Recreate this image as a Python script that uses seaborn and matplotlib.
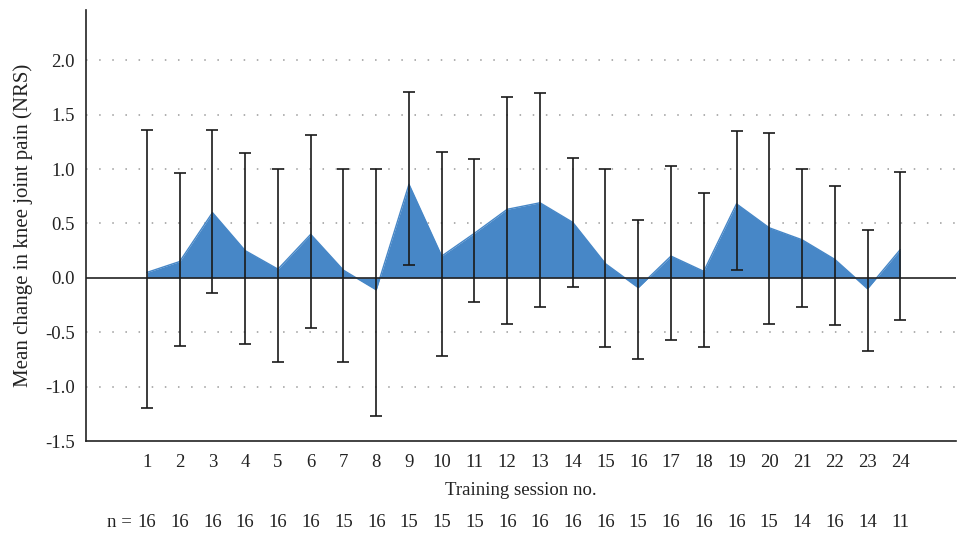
import numpy as np
import pandas as pd
import matplotlib
matplotlib.use("Agg")
import matplotlib.pyplot as plt
import seaborn as sns

sessions = list(range(1, 25))
mean_change = [0.05, 0.15, 0.60, 0.25, 0.08, 0.40, 0.07, -0.11, 0.86, 0.20,
               0.41, 0.63, 0.69, 0.51, 0.13, -0.09, 0.20, 0.06, 0.68, 0.46,
               0.35, 0.17, -0.10, 0.26]
err_upper = [1.36, 0.96, 1.36, 1.15, 1.00, 1.31, 1.00, 1.00, 1.71, 1.16,
             1.09, 1.66, 1.70, 1.10, 1.00, 0.53, 1.03, 0.78, 1.35, 1.33,
             1.00, 0.84, 0.44, 0.97]
err_lower = [-1.20, -0.63, -0.14, -0.61, -0.77, -0.46, -0.77, -1.27, 0.12, -0.72,
             -0.22, -0.42, -0.27, -0.08, -0.64, -0.75, -0.57, -0.64, 0.07, -0.42,
             -0.27, -0.43, -0.67, -0.39]
n_values = [16, 16, 16, 16, 16, 16, 15, 16, 15, 15, 15, 16,
            16, 16, 16, 15, 16, 16, 16, 15, 14, 16, 14, 11]
y_ticks = [-1.5, -1.0, -0.5, 0.0, 0.5, 1.0, 1.5, 2.0]

df = pd.DataFrame({"session": sessions, "mean": mean_change,
                   "hi": err_upper, "lo": err_lower, "n": n_values})

sns.set_style("white")
plt.rcParams["font.family"] = ["Liberation Serif", "DejaVu Serif"]

fig = plt.figure(figsize=(9.57, 5.34), dpi=100)
ax = fig.add_axes([0.0899, 0.174, 0.909, 0.807])

fill_color = "#4787C7"
x = df["session"].to_numpy(dtype=float)
y = df["mean"].to_numpy()
ax.fill_between(x, y, 0, color=fill_color, linewidth=0, interpolate=True, zorder=2)
sns.lineplot(data=df, x="session", y="mean", ax=ax, color=fill_color,
             linewidth=1.0, zorder=2.5, legend=False)

# dotted grid
for t in y_ticks:
    if t == 0.0 or t == -1.5:
        continue
    ax.axhline(t, color="#9a9a9a", linewidth=1.1, linestyle=(0, (1.0, 7.6)), zorder=1)
ax.axhline(0, color="#222222", linewidth=1.2, zorder=3)

yerr = np.vstack([df["mean"] - df["lo"], df["hi"] - df["mean"]])
ax.errorbar(x, y, yerr=yerr, fmt="none", ecolor="#1a1a1a", elinewidth=1.2,
            capsize=4, capthick=1.2, zorder=4)

ax.set_xlim(-0.86, 25.7)
ax.set_ylim(-1.5, 2.46)
ax.set_yticks(y_ticks)
ax.set_yticklabels([f"{t:.1f}" for t in y_ticks], fontsize=13.5)
ax.set_xticks(sessions)
ax.set_xticklabels([str(s) for s in sessions], fontsize=13.5)
ax.tick_params(axis="both", length=0, pad=9, colors="#222222")
ax.tick_params(axis="y", pad=8)

for side in ["top", "right"]:
    ax.spines[side].set_visible(False)
for side in ["left", "bottom"]:
    ax.spines[side].set_color("#222222")
    ax.spines[side].set_linewidth(1.2)

ax.set_xlabel("Training session no.", fontsize=13.5, labelpad=8, color="#222222")
ax.set_ylabel("Mean change in knee joint pain (NRS)", fontsize=15, labelpad=9,
              color="#222222")

trans = ax.get_xaxis_transform()
for s, nv in zip(sessions, n_values):
    ax.text(s, -0.188, str(nv), transform=trans, ha="center", va="center",
            fontsize=13.5, color="#222222", clip_on=False)
ax.text(0.55, -0.188, "n =", transform=trans, ha="right", va="center",
        fontsize=13.5, color="#222222", clip_on=False)

fig.savefig("out.png", dpi=100)
